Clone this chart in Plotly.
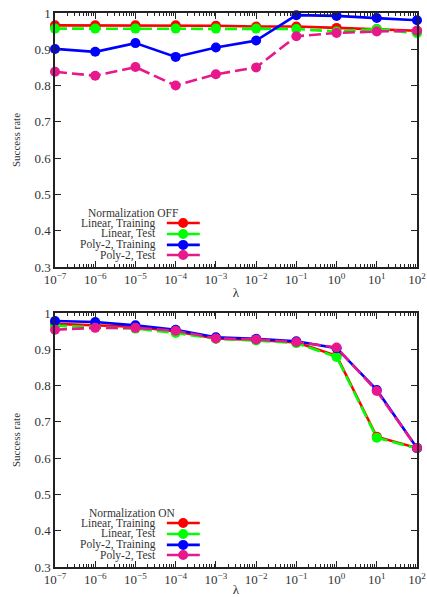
import plotly.graph_objects as go

lam = [1e-7, 1e-6, 1e-5, 1e-4, 1e-3, 1e-2, 1e-1, 1e0, 1e1, 1e2]
lam_labels = ["10<sup>−7</sup>", "10<sup>−6</sup>", "10<sup>−5</sup>", "10<sup>−4</sup>", "10<sup>−3</sup>",
              "10<sup>−2</sup>", "10<sup>−1</sup>", "10<sup>0</sup>", "10<sup>1</sup>", "10<sup>2</sup>"]

# Normalization OFF
off_lin_train = [0.966, 0.966, 0.966, 0.966, 0.965, 0.963, 0.963, 0.959, 0.956, 0.951]
off_lin_test = [0.957, 0.957, 0.957, 0.957, 0.957, 0.957, 0.956, 0.949, 0.956, 0.944]
off_poly_train = [0.901, 0.893, 0.917, 0.879, 0.905, 0.924, 0.994, 0.992, 0.986, 0.980]
off_poly_test = [0.838, 0.827, 0.851, 0.800, 0.831, 0.850, 0.936, 0.945, 0.949, 0.951]

# Normalization ON
on_lin_train = [0.970, 0.967, 0.962, 0.949, 0.930, 0.926, 0.919, 0.882, 0.659, 0.628]
on_lin_test = [0.965, 0.961, 0.957, 0.945, 0.929, 0.924, 0.917, 0.879, 0.656, 0.627]
on_poly_train = [0.978, 0.975, 0.966, 0.954, 0.933, 0.929, 0.922, 0.903, 0.788, 0.628]
on_poly_test = [0.954, 0.959, 0.959, 0.951, 0.930, 0.927, 0.920, 0.905, 0.785, 0.628]

series_names = ["Linear, Training", "Linear, Test", "Poly-2, Training", "Poly-2, Test"]
legend_titles = ["Normalization OFF", "Normalization ON"]
colors = ["#ff0000", "#00ff00", "#0000ff", "#e8178c"]
dashes = ["solid", "12px,5px", "solid", "12px,5px"]

FONT = "Liberation Serif, Times New Roman, serif"
TXT = "#333"
fig = go.Figure()

panels = [
    ("x", "y", [off_lin_train, off_lin_test, off_poly_train, off_poly_test]),
    ("x2", "y2", [on_lin_train, on_lin_test, on_poly_train, on_poly_test]),
]
for xa, ya, data in panels:
    for name, vals, c, d in zip(series_names, data, colors, dashes):
        fig.add_trace(go.Scatter(
            x=lam, y=vals, xaxis=xa, yaxis=ya, mode="lines+markers", name=name,
            line=dict(color=c, width=2.6, dash=d),
            marker=dict(color=c, size=10), showlegend=False, cliponaxis=False))

axis_common = dict(
    showgrid=False, zeroline=False, showline=True, linecolor="#222", linewidth=1.5,
    mirror="ticks", ticks="inside", ticklen=6, tickcolor="#222", automargin=False,
    tickfont=dict(family=FONT, size=13, color=TXT),
)

xcommon = dict(axis_common, type="log", range=[-7, 2], tickmode="array",
               tickvals=lam, ticktext=lam_labels,
               minor=dict(ticks="inside", ticklen=3, tickcolor="#222", showgrid=False, dtick="D1"),
               title=dict(text="λ", font=dict(family=FONT, size=13, color=TXT), standoff=2))
ycommon = dict(axis_common, range=[0.3, 1.0], dtick=0.1, tickformat="~g",
               title=dict(text="Success rate", font=dict(family=FONT, size=11, color=TXT), standoff=12))

fig.update_layout(
    width=427, height=597, margin=dict(l=55, r=10, t=13, b=30),
    paper_bgcolor="white", plot_bgcolor="white",
    font=dict(family=FONT, color=TXT),
    xaxis=dict(xcommon, anchor="y"),
    yaxis=dict(ycommon, domain=[0.5415, 1.0], anchor="x"),
    xaxis2=dict(xcommon, anchor="y2"),
    yaxis2=dict(ycommon, domain=[0.0, 0.4585], anchor="x2"),
)

# Custom legends (text right-aligned, sample on the right), gnuplot style
for i, (xa, ya, _) in enumerate(panels):
    xr = xa + " domain"
    yr = ya + " domain"
    fig.add_annotation(x=0.215, y=0.213, xref=xr, yref=yr, text=legend_titles[i],
                       showarrow=False, xanchor="center", yanchor="middle",
                       font=dict(family=FONT, size=11.5, color=TXT))
    ys = [0.173, 0.130, 0.087, 0.047]
    for name, c, d, yy in zip(series_names, colors, dashes, ys):
        fig.add_annotation(x=0.282, y=yy, xref=xr, yref=yr, text=name, showarrow=False,
                           xanchor="right", yanchor="middle", borderpad=0,
                           font=dict(family=FONT, size=11.5, color=TXT))
        fig.add_shape(type="line", xref=xr, yref=yr, x0=0.309, x1=0.400, y0=yy, y1=yy,
                      line=dict(color=c, width=2.6))
        fig.add_shape(type="circle", xref=xr, yref=yr, xsizemode="pixel", ysizemode="pixel",
                      xanchor=0.354, yanchor=yy, x0=-5, x1=5, y0=-5, y1=5,
                      fillcolor=c, line=dict(color=c, width=0))

fig.write_html("out.html", config={"displayModeBar": False},
               post_script="document.body.style.margin='0';")
